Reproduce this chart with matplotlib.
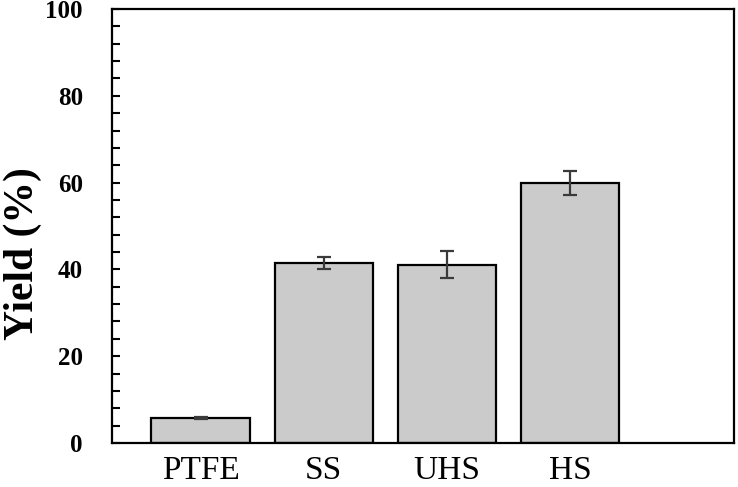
import matplotlib
matplotlib.use("Agg")
import matplotlib.pyplot as plt
from matplotlib.ticker import MultipleLocator

categories = ["PTFE", "SS", "UHS", "HS"]
yields = [5.7, 41.4, 41.1, 59.9]
errors = [0.2, 1.4, 3.1, 2.7]

plt.rcParams['font.family'] = ['Liberation Serif', 'DejaVu Serif']

fig = plt.figure(figsize=(7.38, 4.87), dpi=100)
ax = fig.add_axes([112/738, 44/487, (734-112)/738, (443-9)/487])

x = list(range(len(categories)))
ax.bar(x, yields, width=0.8, color="#cbcbcb", edgecolor="black", linewidth=1.6,
       yerr=errors, capsize=5,
       error_kw=dict(ecolor="#3a3a3a", elinewidth=1.6, capthick=1.6), zorder=2)

ax.set_xlim(-0.72, 4.33)
ax.set_ylim(0, 100)
ax.set_xticks(x)
ax.set_xticklabels(categories)
ax.yaxis.set_major_locator(MultipleLocator(20))
ax.yaxis.set_minor_locator(MultipleLocator(4))

ax.tick_params(axis='x', length=0, pad=9, labelsize=24)
ax.tick_params(axis='y', which='both', direction='in', length=6, width=1.5, pad=21, labelsize=18)
for lab in ax.get_yticklabels():
    lab.set_fontweight('bold')

for s in ax.spines.values():
    s.set_linewidth(1.6)

ax.set_ylabel("Yield (%)", fontsize=30, fontweight='bold')
ax.yaxis.set_label_coords(-0.112, 0.436)

fig.savefig("out.png", dpi=100)
